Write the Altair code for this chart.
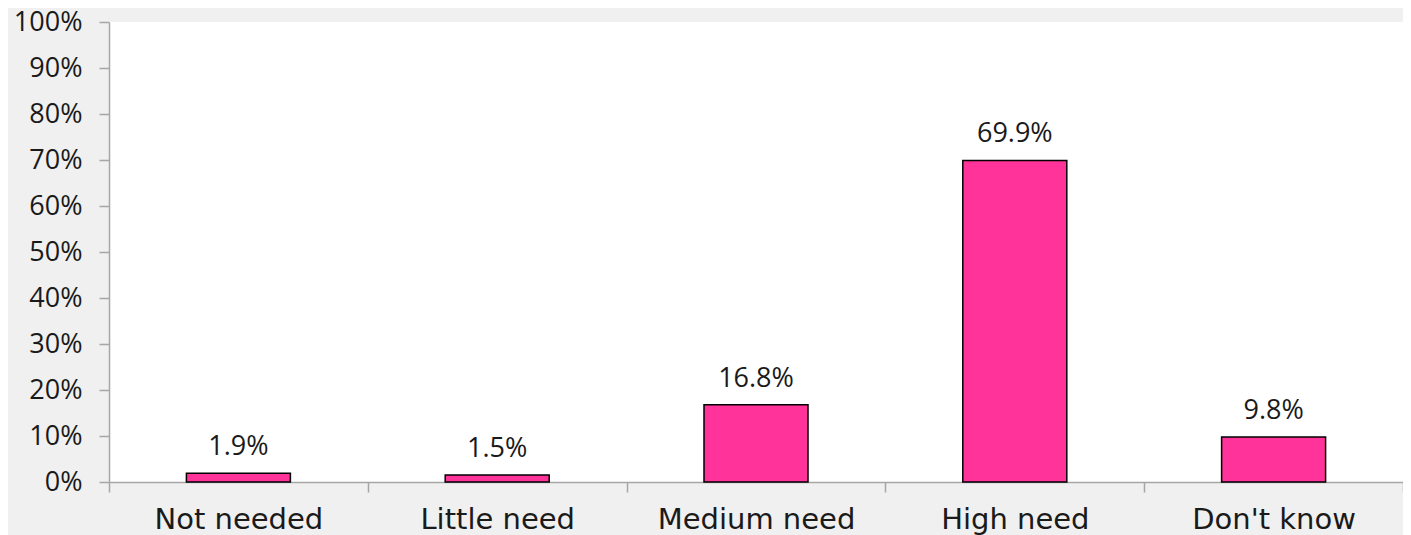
import altair as alt
import pandas as pd

categories = ["Not needed", "Little need", "Medium need", "High need", "Don't know"]
values = [1.9, 1.5, 16.8, 69.9, 9.8]
labels = ["1.9%", "1.5%", "16.8%", "69.9%", "9.8%"]

df = pd.DataFrame({"cat": categories, "val": [v / 100 for v in values], "lab": labels})

FONT = "Open Sans"
FS = 27

base = alt.Chart(df).encode(
    x=alt.X("cat:N", sort=categories, title=None,
            scale=alt.Scale(paddingInner=0, paddingOuter=0),
            axis=alt.Axis(labelAngle=0, tickBand="extent", labelFontSize=29, labelFont="DejaVu Sans",
                          labelColor="#1a1a1a", domainColor="#a6a6a6", tickColor="#a6a6a6",
                          tickSize=10, labelPadding=13, domainWidth=1.5, tickWidth=1.5,
                          labelLimit=400)),
    y=alt.Y("val:Q", title=None,
            scale=alt.Scale(domain=[0, 1], nice=False),
            axis=alt.Axis(format=".0%", values=[i / 10 for i in range(11)], grid=False,
                          labelFontSize=FS, labelFont=FONT, labelColor="#1a1a1a",
                          domainColor="#a6a6a6", tickColor="#a6a6a6", tickSize=10,
                          labelPadding=17, domainWidth=1.5, tickWidth=1.5)),
)

bars = base.mark_bar(color="#FF3399", stroke="#000000", strokeWidth=1.5, size=104)
text = base.mark_text(baseline="alphabetic", dy=-18, font=FONT, fontSize=FS, color="#1a1a1a").encode(
    text="lab:N")

chart = (bars + text).properties(
    width=1294, height=460,
    background="#f0f0f0",
    padding={"left": 101, "top": 14, "right": 0, "bottom": 53},
    autosize=alt.AutoSizeParams(type="none"),
).configure_view(fill="#ffffff", stroke=None)

chart.save("out.html", embed_options={"renderer": "svg", "actions": False})
